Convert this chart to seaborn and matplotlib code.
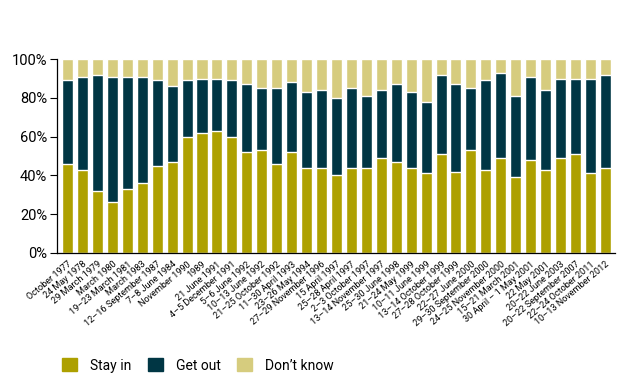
import pandas as pd
import numpy as np
import matplotlib.pyplot as plt
import seaborn as sns
from matplotlib.patches import Patch

# poll dates (x categories)
dates = [
    "October 1977", "24 May 1978", "29 March 1979", "March 1980",
    "19–23 March 1981", "March 1983", "12–16 September 1987", "7–8 June 1984",
    "November 1990", "1989", "21 June 1991", "4–5 December 1991",
    "5–6 June 1992", "10–13 June 1992", "21–25 October 1992", "11–30 April 1993",
    "23–26 May 1994", "27–29 November 1996", "15 April 1997", "25–28 April 1997",
    "2–3 October 1997", "13–14 November 1997", "25–30 June 1998", "21–24 May 1999",
    "10–11 June 1999", "13–14 October 1999", "27–28 October 1999", "22–27 June 2000",
    "29–30 September 2000", "24–25 November 2000", "15–21 March 2001",
    "30 April – 1 May 2001", "22 May 2001", "20–22 June 2003",
    "20–22 September 2007", "22–24 October 2011", "10–13 November 2012",
]

# percentages
stay_in = [46, 43, 32, 26, 33, 36, 45, 47, 60, 62, 63, 60, 52, 53, 46, 52, 44, 44, 40,
           44, 44, 49, 47, 44, 41, 51, 42, 53, 43, 49, 39, 48, 43, 49, 51, 41, 44]
get_out = [43, 48, 60, 65, 58, 55, 44, 39, 29, 28, 27, 29, 35, 32, 39, 36, 39, 40, 40,
           41, 37, 35, 40, 39, 37, 41, 45, 32, 46, 44, 42, 43, 41, 41, 39, 49, 48]
dont_know = [100 - s - g for s, g in zip(stay_in, get_out)]

c_stay = "#ADA000"
c_out = "#003644"
c_dk = "#D6CC7E"

df = pd.DataFrame({"date": dates, "stay": stay_in, "out": get_out, "dk": dont_know})
df["top_out"] = df["stay"] + df["out"]
df["top_dk"] = df["top_out"] + df["dk"]

sns.set_style("white")
plt.rcParams["font.family"] = ["Roboto", "DejaVu Sans"]
plt.rcParams["text.color"] = "black"
plt.rcParams["xtick.color"] = "black"
plt.rcParams["ytick.color"] = "black"

fig = plt.figure(figsize=(6.27, 3.92), dpi=100)
ax = fig.add_axes([0.091, 0.355, 0.89, 0.494])

w = 0.74
sns.barplot(data=df, x="date", y="top_dk", color=c_dk, width=w, saturation=1, ax=ax)
sns.barplot(data=df, x="date", y="top_out", color=c_out, width=w, saturation=1, ax=ax)
sns.barplot(data=df, x="date", y="stay", color=c_stay, width=w, saturation=1, ax=ax)

ax.set_ylim(0, 100)
ax.set_xlim(-0.7, len(dates) - 0.35)
ax.set_yticks(np.arange(0, 101, 20))
ax.set_yticklabels([f"{v}%" for v in range(0, 101, 20)], fontsize=10.5)
ax.set_xlabel("")
ax.set_ylabel("")
ax.set_xticks(range(len(dates)))
ax.set_xticklabels(dates, rotation=40, ha="right", rotation_mode="anchor", fontsize=6.6)
ax.tick_params(axis="x", length=3, width=0.8, pad=2)
ax.tick_params(axis="y", length=5, width=0.8, left=True, pad=2)
for s in ["top", "right"]:
    ax.spines[s].set_visible(False)
for s in ["left", "bottom"]:
    ax.spines[s].set_color("black")
    ax.spines[s].set_linewidth(0.9)

handles = [Patch(color=c_stay, label="Stay in"),
           Patch(color=c_out, label="Get out"),
           Patch(color=c_dk, label="Don’t know")]
fig.legend(handles=handles, loc="center left", bbox_to_anchor=(0.079, 0.068), ncol=3,
           frameon=False, fontsize=10, handlelength=1.1, handleheight=1.1,
           columnspacing=1.2, handletextpad=0.9)

fig.savefig("out.png", dpi=100)
